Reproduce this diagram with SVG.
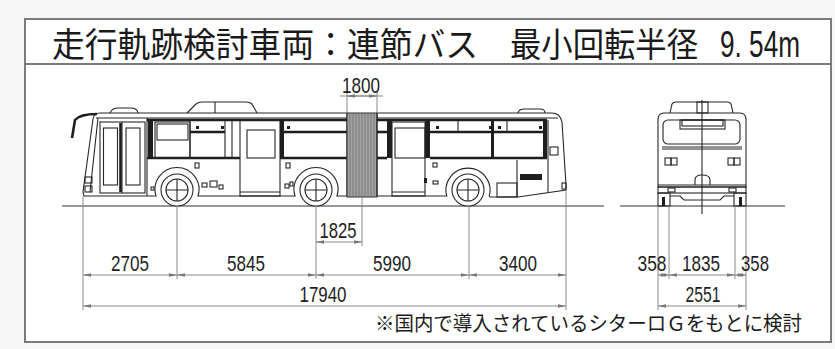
<svg xmlns="http://www.w3.org/2000/svg" width="835" height="349" viewBox="0 0 835 349">
  <defs>
    <style>
      .ln { fill: none; stroke: #262626; stroke-width: 1.1; }
      .thk { fill: none; stroke: #1e1e1e; stroke-width: 2.6; }
      .blk { fill: #1e1e1e; stroke: none; }
      .dim { fill: none; stroke: #8a8a8a; stroke-width: 1; }
      .ext { fill: none; stroke: #8a8a8a; stroke-width: 1; }
      .arr { fill: none; stroke: #8a8a8a; stroke-width: 1; marker-start: url(#ah); marker-end: url(#ah); }
      .num { font-family: "Liberation Sans", Arial, sans-serif; font-size: 22px; fill: #1e1e1e; text-anchor: middle; }
      .jp { font-family: "Noto Sans CJK JP", "Noto Sans", sans-serif; fill: #1a1a1a; }
    </style>
    <marker id="ah" viewBox="0 0 8 6" refX="8" refY="3" markerWidth="8" markerHeight="6" markerUnits="userSpaceOnUse" orient="auto-start-reverse">
      <path d="M0,1.2 L8,3 L0,4.8 Z" fill="#777"/>
    </marker>
  </defs>

  <!-- page background and frame -->
  <rect x="0" y="0" width="835" height="349" fill="#f6f6f6"/>
  <rect x="25" y="19" width="806" height="323" fill="#ffffff" stroke="#7a7a7a" stroke-width="2"/>
  <line x1="25" y1="64" x2="831" y2="64" stroke="#7a7a7a" stroke-width="2"/>

  <!-- title -->
  <g id="title" class="jp" font-size="34">
    <text x="52" y="57" textLength="426" lengthAdjust="spacingAndGlyphs">走行軌跡検討車両：連節バス</text>
    <text x="510" y="57" textLength="188" lengthAdjust="spacingAndGlyphs">最小回転半径</text>
    <text x="720" y="57" font-family="Liberation Sans, Arial, sans-serif" font-size="36" textLength="80" lengthAdjust="spacingAndGlyphs">9. 54m</text>
  </g>

  <!-- ground lines -->
  <g id="ground">
    <line x1="62" y1="206" x2="604" y2="206" stroke="#333" stroke-width="1.2"/>
    <line x1="620" y1="206" x2="785" y2="206" stroke="#333" stroke-width="1.2"/>
  </g>

  <!-- articulated bus, side view -->
  <g id="bus-side">
    <!-- front car body -->
    <path class="ln" fill="#fff" d="M347 113 L100 113 Q94 113 93 119 L83 192 L84 196 L156 196 A22 22 0 1 1 198 196 L295 196 A22 22 0 1 1 337 196 L347 196 Z"/>
    <!-- front mirror -->
    <path d="M97 114 Q80 114 75 120 L72 138" fill="none" stroke="#1e1e1e" stroke-width="2.6"/>
    <!-- roof dome and roof unit -->
    <path class="ln" fill="#fff" d="M110 113 Q112 108 118 108 L131 108 Q137 108 138 113"/>
    <path class="ln" fill="#fff" d="M187 113 L196 104 Q198 102 202 102 L246 102 Q250 102 252 104 L257 113"/>
    <line class="ln" x1="215" y1="102" x2="215" y2="113"/>
    <!-- roof rim -->
    <line class="ln" x1="96" y1="118" x2="347" y2="118"/>
    <!-- front pillar -->
    <line class="ln" x1="98" y1="118" x2="90" y2="192"/>
    <!-- front door (two leaves) -->
    <rect class="ln" x="100" y="122" width="45" height="71"/>
    <line class="ln" x1="122" y1="122" x2="122" y2="193"/>
    <rect class="ln" x="103.5" y="128" width="14" height="57"/>
    <rect class="ln" x="126" y="128" width="14" height="57"/>
    <line class="thk" x1="120.5" y1="123" x2="120.5" y2="192"/>
    <line class="ln" x1="147" y1="118" x2="147" y2="196"/>
    <!-- front lamps -->
    <rect class="ln" x="85" y="177" width="7" height="6"/>
    <rect class="ln" x="85" y="186" width="7" height="6"/>
    <!-- window band front car -->
    <line class="thk" x1="147" y1="120" x2="347" y2="120"/>
    <line class="thk" x1="147" y1="158" x2="240" y2="158"/>
    <line class="thk" x1="280" y1="158" x2="347" y2="158"/>
    <rect class="blk" x="148" y="120" width="5" height="38"/>
    <rect class="ln" x="155" y="122" width="35" height="36"/>
    <rect class="ln" x="157" y="124" width="31" height="16"/>
    <line class="ln" x1="190" y1="120" x2="190" y2="158"/>
    <line class="ln" x1="225" y1="120" x2="225" y2="158"/>
    <line class="ln" x1="232" y1="120" x2="232" y2="158"/>
    <line class="thk" x1="190" y1="132" x2="225" y2="132"/>
    <line class="thk" x1="284" y1="132" x2="347" y2="132"/>
    <rect class="blk" x="196" y="126" width="3" height="3"/>
    <rect class="blk" x="221" y="126" width="3" height="3"/>
    <rect class="blk" x="287" y="126" width="3" height="3"/>
    <!-- middle door front car -->
    <rect class="ln" x="240" y="120" width="40" height="76"/>
    <rect class="ln" x="247" y="130" width="28" height="28"/>
    <line class="ln" x1="240" y1="192" x2="280" y2="192"/>
    <rect class="blk" x="280" y="120" width="4" height="38"/>
    <!-- lower body fittings front car -->
    <rect class="ln" x="195" y="163" width="4" height="5"/>
    <rect class="ln" x="286" y="163" width="4" height="5"/>
    <rect class="ln" x="202" y="183" width="5" height="4"/>
    <rect class="ln" x="210" y="181" width="7" height="6"/>
    <rect class="ln" x="219" y="185" width="4" height="4"/>
    <rect class="ln" x="151" y="187" width="3" height="3"/>
    <rect class="ln" x="285" y="184" width="4" height="4"/>
    <rect class="ln" x="290" y="182" width="3" height="4"/>

    <!-- articulation bellows -->
    <rect x="347" y="113" width="30" height="84" fill="#a3a3a3" stroke="#2b2b2b" stroke-width="1"/>
    <path stroke="#6e6e6e" stroke-width="0.8" d="M350 113V197M353 113V197M356 113V197M359 113V197M362 113V197M365 113V197M368 113V197M371 113V197M374 113V197"/>

    <!-- rear car body -->
    <path class="ln" fill="#fff" d="M377 113 L552 113 Q560 113 562 122 L566 185 L566 190 L518 197 L490 197 L489.2 196 A22 22 0 1 0 446.8 196 L377 196 Z"/>
    <path class="ln" fill="#fff" d="M518 113 Q519 109 524 109 L540 109 Q545 109 545 113"/>
    <line class="ln" x1="377" y1="118" x2="558" y2="118"/>
    <line class="thk" x1="377" y1="120" x2="547" y2="120"/>
    <line class="thk" x1="377" y1="158" x2="387" y2="158"/>
    <line class="thk" x1="430" y1="158" x2="547" y2="158"/>
    <line class="thk" x1="377" y1="132" x2="387" y2="132"/>
    <line class="thk" x1="430" y1="132" x2="543" y2="132"/>
    <rect class="blk" x="387" y="120" width="5" height="38"/>
    <rect class="blk" x="425" y="120" width="5" height="38"/>
    <rect class="blk" x="543" y="120" width="4" height="38"/>
    <rect class="blk" x="491" y="120" width="3" height="38"/>
    <line class="ln" x1="458" y1="120" x2="458" y2="132"/>
    <line class="ln" x1="507" y1="120" x2="507" y2="132"/>
    <rect class="blk" x="436" y="126" width="3" height="3"/>
    <rect class="blk" x="489" y="126" width="3" height="3"/>
    <rect class="blk" x="498" y="126" width="3" height="3"/>
    <rect class="blk" x="539" y="126" width="3" height="3"/>
    <!-- rear car door -->
    <rect class="ln" x="392" y="122" width="33" height="74"/>
    <rect class="ln" x="395" y="128" width="30" height="30"/>
    <line class="ln" x1="392" y1="192" x2="425" y2="192"/>
    <rect class="blk" x="424" y="178" width="3" height="5"/>
    <!-- rear car fittings -->
    <rect class="ln" x="433" y="163" width="4" height="4"/>
    <rect class="ln" x="433" y="181" width="5" height="3"/>
    <rect class="ln" x="497" y="183" width="20" height="14"/>
    <line class="ln" x1="517" y1="160" x2="517" y2="197"/>
    <line class="ln" x1="548" y1="120" x2="548" y2="192"/>
    <rect class="blk" x="520" y="174" width="22" height="6"/>
    <rect class="ln" x="550" y="147" width="8" height="8"/>
    <rect class="ln" x="562" y="183" width="4" height="6"/>

    <!-- wheels -->
    <g class="ln" fill="#fff">
      <circle cx="177" cy="190" r="16" fill="#fff"/>
      <circle cx="177" cy="190" r="11"/>
      <circle cx="316" cy="190" r="16" fill="#fff"/>
      <circle cx="316" cy="190" r="11"/>
      <circle cx="468" cy="190" r="16" fill="#fff"/>
      <circle cx="468" cy="190" r="11"/>
    </g>
    <path class="ln" d="M166 190H188M177 179V201M305 190H327M316 179V201M457 190H479M468 179V201"/>
  </g>

  <!-- bus, front view -->
  <g id="bus-front">
    <path class="ln" fill="#fff" d="M670 113 L672 104 Q673 102 676 102 L727 102 Q730 102 731 104 L733 113"/>
    <rect class="ln" x="697" y="102" width="11" height="11"/>
    <path class="ln" fill="#fff" d="M664 113 L740 113 Q746 113 746 120 L746 187 L658 187 L658 120 Q658 113 664 113 Z"/>
    <rect class="ln" x="663" y="120" width="77" height="24" rx="5"/>
    <rect class="ln" x="680" y="120" width="45" height="9"/>
    <rect class="ln" x="682" y="120" width="41" height="6"/>
    <line class="ln" x1="662" y1="147" x2="742" y2="147"/>
    <line class="ln" x1="662" y1="149" x2="742" y2="149"/>
    <rect class="ln" x="665" y="158" width="6" height="7"/>
    <rect class="ln" x="671" y="158" width="6" height="7"/>
    <rect class="ln" x="728" y="158" width="6" height="7"/>
    <rect class="ln" x="734" y="158" width="6" height="7"/>
    <path class="ln" d="M695 185 L695 180 Q695 175 702 175 Q710 175 710 180 L710 185"/>
    <line class="ln" x1="658" y1="185" x2="746" y2="185"/>
    <rect class="ln" x="658" y="187" width="88" height="6"/>
    <rect class="ln" x="668" y="188" width="7" height="4"/>
    <rect class="ln" x="729" y="188" width="7" height="4"/>
    <rect class="ln" x="658" y="193" width="12" height="13"/>
    <rect class="ln" x="734" y="193" width="12" height="13"/>
    <rect class="blk" x="662" y="197" width="3" height="9"/>
    <rect class="blk" x="739" y="197" width="3" height="9"/>
    <path class="ln" d="M670 196 L680 196 L684 200 L720 200 L724 196 L734 196"/>
    <line class="ln" x1="702" y1="100" x2="702" y2="214"/>
  </g>

  <!-- dimension lines -->
  <g id="dimensions">
    <!-- extension lines, side view -->
    <path class="ext" d="M83 196V310M177 206V279M316 206V279M362 197V246M469 206V279M566 190V310M347 91V113M377 91V113"/>
    <!-- extension lines, front view -->
    <path class="ext" d="M658 206V310M669 206V279M735 206V279M746 206V310"/>
    <!-- articulation length -->
    <line class="dim" x1="340" y1="96" x2="383" y2="96"/>
    <line class="arr" x1="347" y1="96" x2="377" y2="96"/>
    <!-- axle to articulation -->
    <line class="arr" x1="316" y1="242" x2="362" y2="242"/>
    <!-- axle spacing -->
    <line class="arr" x1="83" y1="275" x2="177" y2="275"/>
    <line class="arr" x1="177" y1="275" x2="316" y2="275"/>
    <line class="arr" x1="316" y1="275" x2="469" y2="275"/>
    <line class="arr" x1="469" y1="275" x2="566" y2="275"/>
    <line class="arr" x1="83" y1="306" x2="566" y2="306"/>
    <!-- front view widths -->
    <line class="arr" x1="658" y1="275" x2="669" y2="275"/>
    <line class="arr" x1="669" y1="275" x2="735" y2="275"/>
    <line class="arr" x1="735" y1="275" x2="746" y2="275"/>
    <line class="arr" x1="658" y1="306" x2="746" y2="306"/>
  </g>

  <!-- dimension values -->
  <g id="labels">
    <text class="num" x="361" y="93" textLength="38" lengthAdjust="spacingAndGlyphs">1800</text>
    <text class="num" x="338" y="238" textLength="37" lengthAdjust="spacingAndGlyphs">1825</text>
    <text class="num" x="130" y="271" textLength="38" lengthAdjust="spacingAndGlyphs">2705</text>
    <text class="num" x="246" y="271" textLength="38" lengthAdjust="spacingAndGlyphs">5845</text>
    <text class="num" x="392" y="271" textLength="38" lengthAdjust="spacingAndGlyphs">5990</text>
    <text class="num" x="518" y="271" textLength="38" lengthAdjust="spacingAndGlyphs">3400</text>
    <text class="num" x="323" y="302" textLength="47" lengthAdjust="spacingAndGlyphs">17940</text>
    <text class="num" x="652" y="271" textLength="29" lengthAdjust="spacingAndGlyphs">358</text>
    <text class="num" x="701" y="271" textLength="38" lengthAdjust="spacingAndGlyphs">1835</text>
    <text class="num" x="755" y="271" textLength="28" lengthAdjust="spacingAndGlyphs">358</text>
    <text class="num" x="703" y="302" textLength="35" lengthAdjust="spacingAndGlyphs">2551</text>
  </g>

  <!-- note -->
  <g id="note">
    <text class="jp" x="375" y="331" font-size="20" textLength="427" lengthAdjust="spacingAndGlyphs">※国内で導入されているシターロＧをもとに検討</text>
  </g>
</svg>
